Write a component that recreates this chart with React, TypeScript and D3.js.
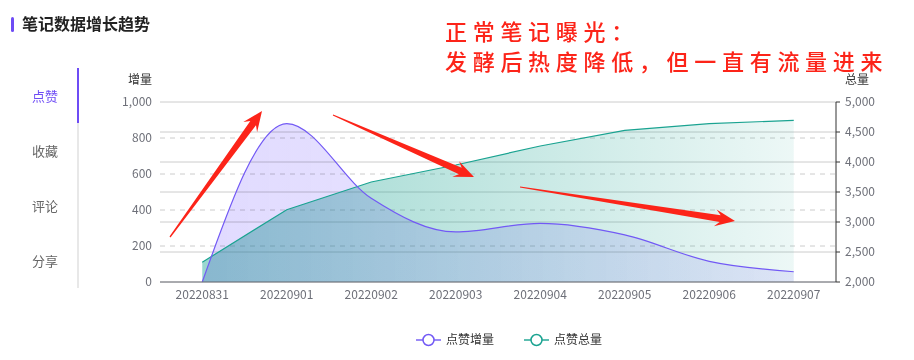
import React, { useEffect, useRef } from 'react';
import * as d3 from 'd3';

// 日期类目
const dates = ['20220831', '20220901', '20220902', '20220903', '20220904', '20220905', '20220906', '20220907'];
// 点赞增量（左轴）
const likeIncrease = [0, 880, 465, 278, 326, 262, 115, 57];
// 点赞总量（右轴）
const likeTotal = [2330, 3205, 3667, 3950, 4267, 4528, 4639, 4695];
const leftTicks = [0, 200, 400, 600, 800, 1000];
const rightTicks = [2000, 2500, 3000, 3500, 4000, 4500, 5000];
const tabs = ['点赞', '收藏', '评论', '分享'];
const legendNames = ['点赞增量', '点赞总量'];

const FONT = '"Noto Sans CJK SC", "Noto Sans", sans-serif';
const PURPLE = '#7259f5';
const TEAL = '#1aa391';
const RED = '#fc2419';

// 标注箭头（像素位置，批注用）
const arrows = [
  { from: [170, 237], to: [262, 111] },
  { from: [333, 115], to: [474, 177] },
  { from: [520, 187], to: [735, 221] },
];

function arrowPath(from: number[], to: number[]) {
  const dx = to[0] - from[0], dy = to[1] - from[1];
  const len = Math.sqrt(dx * dx + dy * dy);
  const ux = dx / len, uy = dy / len;
  const nx = -uy, ny = ux;
  const b = [to[0] - ux * 15, to[1] - uy * 15];
  const b2 = [to[0] - ux * 20, to[1] - uy * 20];
  const pts = [
    [from[0] + nx * 0.6, from[1] + ny * 0.6],
    [b[0] + nx * 3.5, b[1] + ny * 3.5],
    [b2[0] + nx * 8.5, b2[1] + ny * 8.5],
    to,
    [b2[0] - nx * 8.5, b2[1] - ny * 8.5],
    [b[0] - nx * 3.5, b[1] - ny * 3.5],
    [from[0] - nx * 0.6, from[1] - ny * 0.6],
  ];
  return 'M' + pts.map(p => p[0].toFixed(1) + ',' + p[1].toFixed(1)).join('L') + 'Z';
}

export default function App() {
  const ref = useRef<SVGSVGElement>(null);

  useEffect(() => {
    const svg = d3.select(ref.current);
    svg.selectAll('*').remove();
    const left = 160, right = 836, top = 102, bottom = 282;

    const x = d3.scalePoint().domain(dates).range([left, right]).padding(0.5);
    const yL = d3.scaleLinear().domain([0, 1000]).range([bottom, top]);
    const yR = d3.scaleLinear().domain([2000, 5000]).range([bottom, top]);
    const fmt = d3.format(',');

    const defs = svg.append('defs');
    const g1 = defs.append('linearGradient').attr('id', 'tealGrad')
      .attr('gradientUnits', 'userSpaceOnUse')
      .attr('x1', x(dates[0])).attr('x2', x(dates[dates.length - 1])).attr('y1', 0).attr('y2', 0);
    g1.append('stop').attr('offset', '0%').attr('stop-color', TEAL).attr('stop-opacity', 0.44);
    g1.append('stop').attr('offset', '100%').attr('stop-color', TEAL).attr('stop-opacity', 0.08);
    const g2 = defs.append('linearGradient').attr('id', 'purpleGrad')
      .attr('gradientUnits', 'userSpaceOnUse')
      .attr('x1', x(dates[0])).attr('x2', x(dates[dates.length - 1])).attr('y1', 0).attr('y2', 0);
    g2.append('stop').attr('offset', '0%').attr('stop-color', '#7b61ff').attr('stop-opacity', 0.23);
    g2.append('stop').attr('offset', '100%').attr('stop-color', '#7b61ff').attr('stop-opacity', 0.12);

    // 标题
    svg.append('rect').attr('x', 11).attr('y', 17).attr('width', 3).attr('height', 15).attr('rx', 1.5).attr('fill', '#6e4cf5');
    svg.append('text').attr('x', 22).attr('y', 30).text('笔记数据增长趋势')
      .attr('font-size', 16).attr('font-weight', 'bold').attr('fill', '#222').attr('font-family', FONT);

    // 左侧tab
    svg.append('rect').attr('x', 77).attr('y', 68).attr('width', 2).attr('height', 220).attr('fill', '#e8e8e8');
    svg.append('rect').attr('x', 77).attr('y', 68).attr('width', 2).attr('height', 55).attr('fill', '#6e4cf5');
    tabs.forEach((t, i) => {
      svg.append('text').attr('x', 45).attr('y', 101 + i * 55).attr('text-anchor', 'middle')
        .attr('font-size', 13).attr('font-family', FONT)
        .attr('fill', i === 0 ? '#6e4cf5' : '#666').text(t);
    });

    // 网格
    const grid = svg.append('g');
    rightTicks.forEach(v => {
      grid.append('line').attr('x1', left).attr('x2', right).attr('y1', yR(v)).attr('y2', yR(v))
        .attr('stroke', '#cccccc').attr('stroke-width', 1);
    });
    leftTicks.slice(1, -1).forEach(v => {
      grid.append('line').attr('x1', left).attr('x2', right).attr('y1', yL(v)).attr('y2', yL(v))
        .attr('stroke', '#cccccc').attr('stroke-width', 1).attr('stroke-dasharray', '5,5');
    });

    // 面积
    const areaTotal = d3.area<number>().x((d, i) => x(dates[i])!).y0(bottom).y1(d => yR(d));
    const areaInc = d3.area<number>().x((d, i) => x(dates[i])!).y0(bottom).y1(d => yL(d)).curve(d3.curveMonotoneX);
    svg.append('path').attr('d', areaTotal(likeTotal)).attr('fill', 'url(#tealGrad)');
    svg.append('path').attr('d', areaInc(likeIncrease)).attr('fill', 'url(#purpleGrad)')
      .style('mix-blend-mode', 'multiply');

    const lineTotal = d3.line<number>().x((d, i) => x(dates[i])!).y(d => yR(d));
    const lineInc = d3.line<number>().x((d, i) => x(dates[i])!).y(d => yL(d)).curve(d3.curveMonotoneX);
    svg.append('path').attr('d', lineTotal(likeTotal)).attr('fill', 'none').attr('stroke', TEAL).attr('stroke-width', 1.2);
    svg.append('path').attr('d', lineInc(likeIncrease)).attr('fill', 'none').attr('stroke', PURPLE).attr('stroke-width', 1.2);

    // 坐标轴
    svg.append('line').attr('x1', left).attr('x2', right).attr('y1', bottom).attr('y2', bottom).attr('stroke', '#6e7079');
    svg.append('line').attr('x1', right).attr('x2', right).attr('y1', top).attr('y2', bottom).attr('stroke', '#333');
    rightTicks.forEach(v => {
      svg.append('line').attr('x1', right).attr('x2', right + 4).attr('y1', yR(v)).attr('y2', yR(v)).attr('stroke', '#333');
      svg.append('text').attr('x', 845).attr('y', yR(v)).attr('dy', '0.35em').text(fmt(v))
        .attr('font-size', 12).attr('fill', '#6e7079').attr('font-family', FONT);
    });
    leftTicks.forEach(v => {
      svg.append('text').attr('x', 152).attr('y', yL(v)).attr('dy', '0.35em').attr('text-anchor', 'end').text(fmt(v))
        .attr('font-size', 12).attr('fill', '#6e7079').attr('font-family', FONT);
    });
    dates.forEach(d => {
      svg.append('text').attr('x', x(d)!).attr('y', 299).attr('text-anchor', 'middle').text(d)
        .attr('font-size', 12).attr('fill', '#6e7079').attr('font-family', FONT);
    });
    svg.append('text').attr('x', 140).attr('y', 84).attr('text-anchor', 'middle').text('增量')
      .attr('font-size', 12).attr('fill', '#333').attr('font-family', FONT);
    svg.append('text').attr('x', 857).attr('y', 84).attr('text-anchor', 'middle').text('总量')
      .attr('font-size', 12).attr('fill', '#333').attr('font-family', FONT);

    // 图例
    const legendColors = [PURPLE, TEAL];
    const legendX = [416, 524];
    legendNames.forEach((name, i) => {
      const lg = svg.append('g').attr('transform', `translate(${legendX[i]},340)`);
      lg.append('line').attr('x1', 0).attr('x2', 25).attr('y1', 0).attr('y2', 0)
        .attr('stroke', legendColors[i]).attr('stroke-width', 2).attr('opacity', 0.7);
      lg.append('circle').attr('cx', 12.5).attr('cy', 0).attr('r', 5.5)
        .attr('fill', '#fff').attr('stroke', legendColors[i]).attr('stroke-width', 1.5);
      lg.append('text').attr('x', 30).attr('y', 0).attr('dy', '0.35em').text(name)
        .attr('font-size', 12).attr('fill', '#333').attr('font-family', FONT);
    });

    // 批注
    arrows.forEach(a => {
      svg.append('path').attr('d', arrowPath(a.from, a.to)).attr('fill', RED);
    });
    svg.append('text').attr('x', 445).attr('y', 40).text('正常笔记曝光：')
      .attr('font-size', 22).attr('font-weight', 500).attr('letter-spacing', 5.7).attr('fill', RED).attr('font-family', FONT);
    svg.append('text').attr('x', 445).attr('y', 70).text('发酵后热度降低，但一直有流量进来')
      .attr('font-size', 22).attr('font-weight', 500).attr('letter-spacing', 5.7).attr('fill', RED).attr('font-family', FONT);
  }, []);

  return (
    <svg ref={ref} width={914} height={360}
      style={{ position: 'absolute', left: 0, top: 0, background: '#fff' }} />
  );
}
